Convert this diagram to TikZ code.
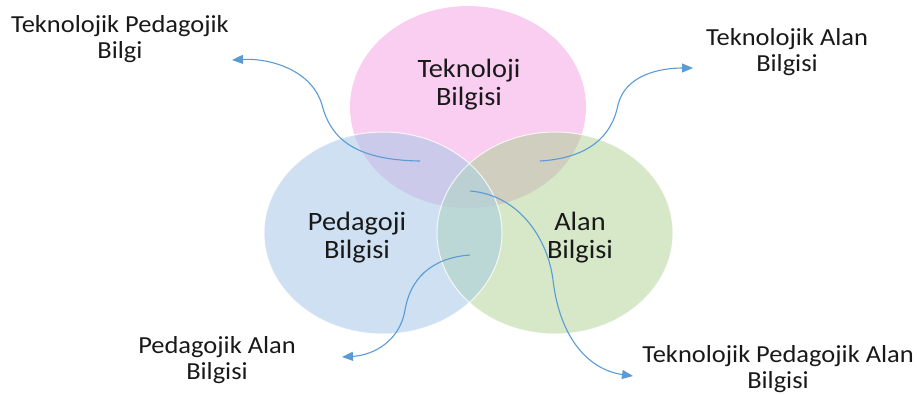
\documentclass[tikz,border=0pt]{standalone}
\usepackage{fontspec}
\setmainfont{Carlito}
\usetikzlibrary{arrows.meta}
\definecolor{pinkc}{RGB}{250,206,240}
\definecolor{bluec}{RGB}{206,224,242}
\definecolor{greenc}{RGB}{214,232,200}
\definecolor{pbc}{RGB}{204,202,235}
\definecolor{pgc}{RGB}{208,206,190}
\definecolor{bgc}{RGB}{188,216,214}
\definecolor{pbgc}{RGB}{186,208,210}
\definecolor{arrowc}{RGB}{91,155,213}
\definecolor{txtc}{RGB}{25,25,25}
\tikzset{
  innerlbl/.style={align=center, text=txtc, font=\addfontfeature{FakeStretch=1.07}\fontsize{26.5}{28}\selectfont, inner sep=0pt},
  outerlbl/.style={align=center, text=txtc, font=\addfontfeature{FakeStretch=1.08}\fontsize{24.5}{26}\selectfont, inner sep=0pt},
  conn/.style={draw=arrowc, line width=1.1pt, -{Triangle[length=11pt,width=9pt]}},
  rimline/.style={draw=white, line width=1pt, opacity=0.8}
}
\begin{document}
\begin{tikzpicture}[x=1pt,y=-1pt]
\useasboundingbox (0,0) rectangle (917,394);
\def\pinkE{(468,107) ellipse [x radius=118pt, y radius=101pt]}
\def\blueE{(383,233) ellipse [x radius=119pt, y radius=101pt]}
\def\greenE{(555,233) ellipse [x radius=118pt, y radius=101pt]}
% base fills
\fill[pinkc] \pinkE;
\fill[bluec] \blueE;
\fill[greenc] \greenE;
% pairwise overlaps
\begin{scope}\clip \pinkE; \fill[pbc] \blueE; \end{scope}
\begin{scope}\clip \pinkE; \fill[pgc] \greenE; \end{scope}
\begin{scope}\clip \blueE; \fill[bgc] \greenE; \end{scope}
\begin{scope}\clip \pinkE; \clip \blueE; \fill[pbgc] \greenE; \end{scope}
% white rims
\draw[rimline] \blueE;
\draw[rimline] \greenE;
% inner labels
\node[innerlbl] (tb) at (469,85) {Teknoloji\\Bilgisi};
\node[innerlbl] (pb) at (357,238) {Pedagoji\\Bilgisi};
\node[innerlbl] (ab) at (580,238) {Alan\\Bilgisi};
% outer labels
\node[outerlbl] (tpk) at (120,39) {Teknolojik Pedagojik\\Bilgi};
\node[outerlbl] (tak) at (787,52) {Teknolojik Alan\\Bilgisi};
\node[outerlbl] (pak) at (217,360) {Pedagojik Alan\\Bilgisi};
\node[outerlbl] (tpak) at (778,369) {Teknolojik Pedagojik Alan\\Bilgisi};
% connector anchors
\coordinate (sTPK) at (420,161);
\coordinate (eTPK) at (232,60);
\coordinate (sTAK) at (540,161);
\coordinate (eTAK) at (693,68);
\coordinate (sPAK) at (470,255);
\coordinate (ePAK) at (342,357);
\coordinate (sTPAK) at (470,191);
\coordinate (eTPAK) at (633,376);
% connectors
\draw[conn] (sTPK) .. controls (350,160) and (330,135) .. (322,105) .. controls (312,70) and (270,58) .. (eTPK);
\draw[conn] (sTAK) .. controls (590,158) and (612,135) .. (618,105) .. controls (625,75) and (660,68) .. (eTAK);
\draw[conn] (sPAK) .. controls (430,258) and (410,280) .. (405,310) .. controls (400,340) and (375,355) .. (ePAK);
\draw[conn] (sTPAK) .. controls (520,195) and (548,240) .. (553,280) .. controls (560,340) and (590,370) .. (eTPAK);
\end{tikzpicture}
\end{document}
